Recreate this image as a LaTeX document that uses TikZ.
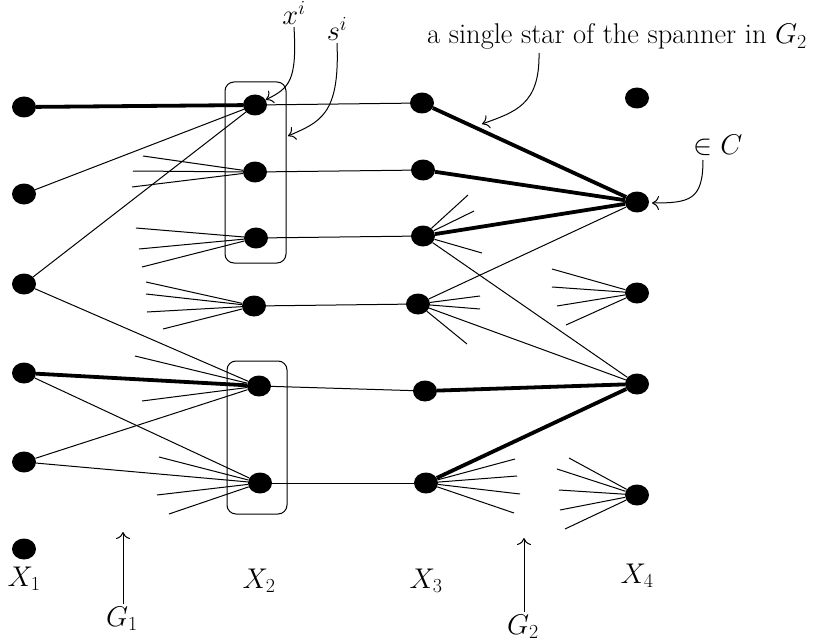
\RequirePackage{fix-cm}
\documentclass[tikz,border=0pt]{standalone}
\usetikzlibrary{shapes.geometric,arrows.meta}
\begin{document}
\begin{tikzpicture}[x=1pt,y=-1pt,
  v/.style={ellipse, fill=black, minimum width=24pt, minimum height=21pt, inner sep=0pt},
  ln/.style={line width=1pt},
  hv/.style={line width=3.8pt},
  stub/.style={line width=1pt},
  sbox/.style={draw, line width=1pt, rounded corners=9pt, inner sep=0pt},
  lbl/.style={font=\fontsize{28.5}{34}\selectfont, inner sep=2pt},
  ann/.style={line width=1pt, -{To[length=7pt,width=14pt]}}]
\useasboundingbox (0,0) rectangle (815,642);
% nodes
\node[v] (a1) at (24,107) {};
\node[v] (a2) at (24,194) {};
\node[v] (a3) at (24,284) {};
\node[v] (a4) at (24,373) {};
\node[v] (a5) at (24,462) {};
\node[v] (a6) at (24,549) {};
\node[v] (b1) at (255,105) {};
\node[v] (b2) at (255,172) {};
\node[v] (b3) at (256,238) {};
\node[v] (b4) at (254,306) {};
\node[v] (b5) at (259,386) {};
\node[v] (b6) at (260,483) {};
\node[v] (c1) at (422,103) {};
\node[v] (c2) at (423,170) {};
\node[v] (c3) at (423,236) {};
\node[v] (c4) at (418,304) {};
\node[v] (c5) at (425,391) {};
\node[v] (c6) at (426,483) {};
\node[v] (d1) at (637,98) {};
\node[v] (d2) at (637,202) {};
\node[v] (d3) at (637,293) {};
\node[v] (d4) at (637,384) {};
\node[v] (d5) at (637,495) {};
% boxes
\node[sbox, minimum width=61pt, minimum height=181pt] (s1) at (255.5,172.5) {};
\node[sbox, minimum width=60pt, minimum height=153pt] (s2) at (257,437.5) {};
% thick edges
\draw[hv] (a1) -- (b1);
\draw[hv] (a4) -- (b5);
\draw[hv] (c1) -- (d2);
\draw[hv] (c2) -- (d2);
\draw[hv] (c3) -- (d2);
\draw[hv] (c5) -- (d4);
\draw[hv] (c6) -- (d4);
% thin edges
\draw[ln] (b1) -- (c1);
\draw[ln] (b2) -- (c2);
\draw[ln] (b3) -- (c3);
\draw[ln] (b4) -- (c4);
\draw[ln] (b5) -- (c5);
\draw[ln] (b6) -- (c6);
\draw[ln] (a2) -- (b1);
\draw[ln] (a3) -- (b1);
\draw[ln] (a3) -- (b5);
\draw[ln] (a4) -- (b6);
\draw[ln] (a5) -- (b5);
\draw[ln] (a5) -- (b6);
\draw[ln] (c3) -- (d4);
\draw[ln] (c4) -- (d2);
\draw[ln] (c4) -- (d4);
% stubs
\coordinate (e1) at (143,156); \coordinate (e2) at (133,171); \coordinate (e3) at (132,187);
\draw[stub] (b2) -- (e1); \draw[stub] (b2) -- (e2); \draw[stub] (b2) -- (e3);
\coordinate (e4) at (136,228); \coordinate (e5) at (139,249); \coordinate (e6) at (142,267);
\draw[stub] (b3) -- (e4); \draw[stub] (b3) -- (e5); \draw[stub] (b3) -- (e6);
\coordinate (e7) at (146,282); \coordinate (e8) at (146,294); \coordinate (e9) at (147,312); \coordinate (e10) at (163,329);
\draw[stub] (b4) -- (e7); \draw[stub] (b4) -- (e8); \draw[stub] (b4) -- (e9); \draw[stub] (b4) -- (e10);
\coordinate (e11) at (135,356); \coordinate (e12) at (142,401);
\draw[stub] (b5) -- (e11); \draw[stub] (b5) -- (e12);
\coordinate (e13) at (159,457); \coordinate (e14) at (157,495); \coordinate (e15) at (169,514);
\draw[stub] (b6) -- (e13); \draw[stub] (b6) -- (e14); \draw[stub] (b6) -- (e15);
\coordinate (f1) at (468,195); \coordinate (f2) at (474,211); \coordinate (f3) at (482,253);
\draw[stub] (c3) -- (f1); \draw[stub] (c3) -- (f2); \draw[stub] (c3) -- (f3);
\coordinate (f4) at (480,296); \coordinate (f5) at (480,309); \coordinate (f6) at (467,344);
\draw[stub] (c4) -- (f4); \draw[stub] (c4) -- (f5); \draw[stub] (c4) -- (f6);
\coordinate (f7) at (552,269); \coordinate (f8) at (552,287); \coordinate (f9) at (557,306); \coordinate (f10) at (566,325);
\draw[stub] (d3) -- (f7); \draw[stub] (d3) -- (f8); \draw[stub] (d3) -- (f9); \draw[stub] (d3) -- (f10);
\coordinate (f11) at (515,459); \coordinate (f12) at (517,476); \coordinate (f13) at (520,494); \coordinate (f14) at (514,513);
\draw[stub] (c6) -- (f11); \draw[stub] (c6) -- (f12); \draw[stub] (c6) -- (f13); \draw[stub] (c6) -- (f14);
\coordinate (f15) at (569,458); \coordinate (f16) at (557,469); \coordinate (f17) at (559,490); \coordinate (f18) at (560,510); \coordinate (f19) at (565,529);
\draw[stub] (d5) -- (f15); \draw[stub] (d5) -- (f16); \draw[stub] (d5) -- (f17); \draw[stub] (d5) -- (f18); \draw[stub] (d5) -- (f19);
% column labels
\node[lbl, anchor=base] (lx1) at (24,586) {$X_1$};
\node[lbl, anchor=base] (lx2) at (259,588) {$X_2$};
\node[lbl, anchor=base] (lx3) at (426,588) {$X_3$};
\node[lbl, anchor=base] (lx4) at (637,583) {$X_4$};
\node[lbl, anchor=base] (lg1) at (122,626) {$G_1$};
\node[lbl, anchor=base] (lg2) at (523,634) {$G_2$};
\coordinate (g1t) at (123,532);
\coordinate (g2t) at (524,538);
\draw[ann] (lg1.north -| g1t) -- (g1t);
\draw[ann] (lg2.north -| g2t) -- (g2t);
% annotations
\node[lbl, anchor=base] (xi) at (294,25) {$x^i$};
\node[lbl, anchor=base] (si) at (337,41) {$s^i$};
\node[lbl, anchor=base] (star) at (617,44) {a single star of the spanner in $G_2$};
\node[lbl, anchor=base] (inC) at (718,154) {$\in C$};
\coordinate (sit) at (288,136);
\coordinate (stara) at (539,53);
\coordinate (start) at (482,124);
\coordinate (inCa) at (703,160);
\coordinate (inCt) at (652,203);
\draw[ann] (xi.south) .. controls (297,80) and (290,88) .. (b1);
\draw[ann] (si.south) .. controls (340,115) and (320,122) .. (sit);
\draw[ann] (stara) .. controls (540,105) and (515,112) .. (start);
\draw[ann] (inCa) .. controls (703,200) and (690,203) .. (inCt);
\end{tikzpicture}
\end{document}
